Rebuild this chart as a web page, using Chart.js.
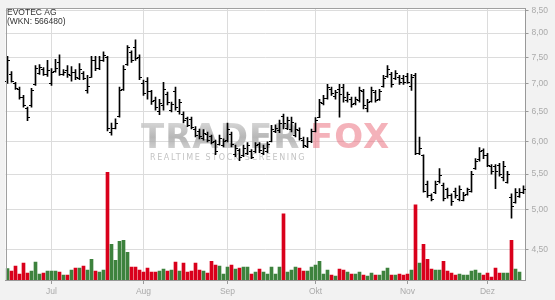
<!DOCTYPE html>
<html>
<head>
<meta charset="utf-8">
<script src="https://cdn.jsdelivr.net/npm/chart.js@4.4.0/dist/chart.umd.min.js"></script>
<style>
  html, body { margin: 0; padding: 0; background: #f2f2f2; }
</style>
</head>
<body>
<canvas id="chart" width="555" height="300"></canvas>
<script>
// month starts (trading-day index) and their labels
const monthTicks = [11, 34, 55, 77, 100, 120];
const monthLabels = ['Jul', 'Aug', 'Sep', 'Okt', 'Nov', 'Dez'];
const priceTicks = [4.5, 5, 5.5, 6, 6.5, 7, 7.5, 8, 8.5];

const opens = [
  7.05, 7.18, 7.00, 6.90, 6.75, 6.55, 6.60, 6.98, 7.20, 7.28,
  7.18, 7.00, 7.24, 7.40, 7.17, 7.25, 7.15, 7.22, 7.10, 7.20,
  6.88, 7.12, 7.45, 7.30, 7.45, 7.50, 6.15, 6.22, 6.42, 6.90,
  7.36, 7.60, 7.70, 7.50, 7.00, 7.05, 6.85, 6.70, 6.50, 6.60,
  6.80, 6.52, 6.85, 6.50, 6.46, 6.38, 6.36, 6.20, 6.17, 6.05,
  6.12, 6.08, 6.00, 5.96, 5.94, 6.02, 6.12, 5.80, 5.86, 5.78,
  5.82, 5.85, 5.84, 5.95, 5.82, 5.85, 6.00, 6.16, 6.18, 6.42,
  6.22, 6.20, 6.10, 6.18, 6.02, 5.93, 6.00, 6.17, 6.40, 6.64,
  6.74, 6.90, 6.76, 6.90, 6.94, 6.70, 6.72, 6.64, 6.70, 6.86,
  6.55, 6.68, 6.84, 6.72, 6.95, 7.14, 7.18, 7.10, 7.12, 7.10,
  7.14, 6.95, 7.15, 5.82, 5.78, 5.35, 5.20, 5.24, 5.40, 5.34,
  5.28, 5.20, 5.26, 5.15, 5.14, 5.21, 5.26, 5.59, 5.72, 5.86,
  5.78, 5.62, 5.62, 5.64, 5.45, 5.39, 5.18, 5.10, 5.19, 5.24
];
const highs = [
  7.52, 7.22, 7.02, 6.93, 6.78, 6.57, 6.91, 7.34, 7.36, 7.30,
  7.44, 7.28, 7.46, 7.55, 7.26, 7.34, 7.32, 7.26, 7.38, 7.22,
  7.15, 7.52, 7.52, 7.52, 7.61, 7.52, 6.30, 6.37, 6.93, 7.34,
  7.74, 7.63, 7.86, 7.55, 7.06, 7.11, 6.87, 6.75, 6.71, 7.02,
  6.84, 6.66, 6.93, 6.71, 6.49, 6.40, 6.40, 6.24, 6.20, 6.19,
  6.15, 6.10, 6.02, 6.10, 6.04, 6.30, 6.15, 5.94, 5.88, 5.94,
  5.98, 5.87, 5.98, 5.98, 5.94, 5.99, 6.26, 6.27, 6.35, 6.45,
  6.40, 6.40, 6.30, 6.22, 6.07, 6.06, 6.20, 6.39, 6.71, 6.78,
  6.98, 6.93, 6.87, 6.98, 6.98, 6.84, 6.75, 6.75, 6.93, 6.89,
  6.71, 6.93, 6.87, 6.89, 7.15, 7.34, 7.21, 7.24, 7.15, 7.15,
  7.19, 7.17, 7.19, 6.07, 5.79, 5.40, 5.22, 5.40, 5.58, 5.37,
  5.30, 5.22, 5.30, 5.33, 5.24, 5.30, 5.54, 5.73, 5.90, 5.88,
  5.81, 5.64, 5.64, 5.66, 5.69, 5.54, 5.22, 5.29, 5.29, 5.33
];
const lows = [
  7.00, 7.02, 6.89, 6.71, 6.57, 6.34, 6.57, 6.96, 7.17, 7.15,
  7.13, 6.96, 7.21, 7.15, 7.15, 7.11, 7.04, 7.07, 7.07, 7.07,
  6.82, 7.11, 7.24, 7.26, 7.42, 6.17, 6.10, 6.20, 6.40, 6.87,
  7.34, 7.40, 7.44, 7.07, 6.78, 6.71, 6.62, 6.52, 6.44, 6.52,
  6.61, 6.49, 6.52, 6.45, 6.30, 6.24, 6.20, 6.07, 6.04, 6.02,
  5.99, 5.96, 5.79, 5.94, 5.91, 5.99, 5.91, 5.76, 5.70, 5.76,
  5.79, 5.73, 5.82, 5.82, 5.79, 5.82, 5.99, 6.14, 6.14, 6.20,
  6.19, 6.15, 6.07, 6.02, 5.90, 5.90, 5.98, 6.15, 6.39, 6.61,
  6.71, 6.78, 6.71, 6.40, 6.66, 6.66, 6.57, 6.61, 6.66, 6.54,
  6.49, 6.66, 6.66, 6.69, 6.93, 7.11, 6.93, 7.07, 6.98, 6.98,
  7.00, 6.87, 5.79, 5.79, 5.24, 5.17, 5.12, 5.22, 5.37, 5.12,
  5.16, 5.06, 5.16, 5.12, 5.12, 5.20, 5.24, 5.57, 5.69, 5.73,
  5.61, 5.50, 5.29, 5.47, 5.40, 5.37, 4.89, 5.09, 5.17, 5.22
];
const closes = [
  7.45, 7.05, 6.92, 6.75, 6.60, 6.40, 6.88, 7.30, 7.32, 7.18,
  7.25, 7.22, 7.30, 7.18, 7.22, 7.18, 7.22, 7.12, 7.28, 7.10,
  6.95, 7.45, 7.30, 7.45, 7.55, 6.22, 6.22, 6.30, 6.88, 7.28,
  7.70, 7.45, 7.48, 7.12, 6.82, 6.85, 6.68, 6.58, 6.65, 6.90,
  6.66, 6.62, 6.58, 6.66, 6.35, 6.27, 6.24, 6.10, 6.08, 6.14,
  6.02, 5.99, 5.85, 6.05, 6.00, 6.20, 5.95, 5.90, 5.75, 5.90,
  5.94, 5.76, 5.94, 5.86, 5.90, 5.96, 6.20, 6.22, 6.30, 6.30,
  6.35, 6.32, 6.20, 6.05, 5.94, 6.00, 6.16, 6.35, 6.66, 6.74,
  6.94, 6.82, 6.84, 6.80, 6.75, 6.80, 6.62, 6.72, 6.88, 6.60,
  6.66, 6.88, 6.70, 6.86, 7.10, 7.28, 6.98, 7.20, 7.02, 7.02,
  7.03, 7.12, 5.82, 5.90, 5.26, 5.20, 5.15, 5.36, 5.48, 5.16,
  5.20, 5.12, 5.20, 5.28, 5.20, 5.28, 5.50, 5.70, 5.85, 5.78,
  5.64, 5.54, 5.55, 5.50, 5.62, 5.50, 5.05, 5.25, 5.25, 5.28
];
// volume in thousand shares
const volumes = [
  35, 27, 42, 18, 51, 21, 27, 54, 18, 21,
  27, 27, 27, 24, 15, 15, 30, 36, 36, 42,
  30, 63, 27, 24, 30, 327, 108, 60, 117, 120,
  84, 39, 39, 30, 24, 36, 24, 24, 27, 33,
  27, 30, 54, 27, 51, 24, 27, 51, 30, 27,
  21, 57, 45, 42, 18, 39, 45, 33, 36, 39,
  39, 18, 24, 33, 24, 18, 39, 18, 39, 201,
  24, 30, 39, 36, 27, 27, 39, 45, 57, 18,
  30, 15, 12, 33, 30, 24, 18, 18, 24, 15,
  12, 21, 15, 15, 27, 36, 15, 15, 18, 15,
  18, 30, 228, 51, 108, 63, 33, 30, 30, 57,
  27, 21, 15, 18, 15, 15, 27, 30, 21, 15,
  21, 9, 36, 21, 21, 21, 120, 33, 24, null
];

const days = opens.map((_, i) => i);
const volColors = days.map(i => closes[i] >= opens[i] ? '#3d823d' : '#d9001b');

const frame = {
  id: 'frame',
  beforeDraw(chart) {
    const { ctx, chartArea: a } = chart;
    ctx.save();
    ctx.fillStyle = '#f2f2f2';
    ctx.fillRect(0, 0, chart.width, chart.height);
    ctx.fillStyle = '#ffffff';
    ctx.fillRect(a.left, a.top, a.right - a.left, a.bottom - a.top);
    ctx.restore();
  },
  afterDraw(chart) {
    const { ctx, chartArea: a } = chart;
    ctx.save();
    ctx.strokeStyle = '#a0a0a0';
    ctx.lineWidth = 1;
    ctx.beginPath();
    ctx.moveTo(Math.round(a.left) + 0.5, a.bottom);
    ctx.lineTo(Math.round(a.left) + 0.5, Math.round(a.top) + 0.5);
    ctx.lineTo(a.right, Math.round(a.top) + 0.5);
    ctx.stroke();
    ctx.fillStyle = '#333';
    ctx.font = '8.5px "Liberation Sans", Arial, sans-serif';
    ctx.fillText('EVOTEC AG', 7, 15);
    ctx.fillText('(WKN: 566480)', 7, 24);
    ctx.restore();
  }
};

const watermark = {
  id: 'watermark',
  beforeDatasetsDraw(chart) {
    const ctx = chart.ctx;
    ctx.save();
    ctx.font = 'bold 34px "DejaVu Sans", sans-serif';
    ctx.letterSpacing = '1px';
    const g = ctx.createLinearGradient(0, 123, 0, 149);
    g.addColorStop(0, 'rgba(205,205,205,0.85)');
    g.addColorStop(0.55, 'rgba(165,165,165,0.8)');
    g.addColorStop(1, 'rgba(200,200,200,0.85)');
    ctx.fillStyle = g;
    ctx.fillText('TRADER', 141, 148);
    ctx.fillStyle = 'rgba(235,115,130,0.55)';
    ctx.fillText('FOX', 310, 148);
    ctx.font = '8px "DejaVu Sans", sans-serif';
    ctx.letterSpacing = '1.6px';
    ctx.fillStyle = 'rgba(185,185,185,0.85)';
    ctx.fillText('REALTIME STOCK SCREENING', 150, 160);
    ctx.restore();
  }
};

const ohlcTicks = {
  id: 'ohlcTicks',
  afterDatasetsDraw(chart) {
    const { ctx, scales: { x, y } } = chart;
    ctx.save();
    ctx.strokeStyle = '#000';
    ctx.lineWidth = 1;
    ctx.beginPath();
    days.forEach(i => {
      const px = x.getPixelForValue(i);
      const yo = Math.round(y.getPixelForValue(opens[i])) + 0.5;
      const yc = Math.round(y.getPixelForValue(closes[i])) + 0.5;
      ctx.moveTo(px - 2.5, yo); ctx.lineTo(px - 0.5, yo);
      ctx.moveTo(px + 0.5, yc); ctx.lineTo(px + 2.5, yc);
    });
    ctx.stroke();
    ctx.restore();
  }
};

new Chart(document.getElementById('chart'), {
  type: 'bar',
  data: {
    datasets: [
      {
        label: 'Kurs',
        data: days.map(i => ({ x: i, y: [lows[i], highs[i]] })),
        yAxisID: 'y',
        backgroundColor: '#000',
        barThickness: 1,
        grouped: false,
        order: 1
      },
      {
        label: 'Volumen',
        data: days.map(i => ({ x: i, y: volumes[i] })),
        yAxisID: 'yv',
        backgroundColor: volColors,
        barThickness: 3,
        grouped: false,
        order: 2
      }
    ]
  },
  options: {
    responsive: false,
    animation: false,
    layout: { padding: { left: 5.5, top: 5, right: 0, bottom: 0 } },
    plugins: { legend: { display: false }, tooltip: { enabled: false } },
    scales: {
      x: {
        type: 'linear',
        min: -0.5,
        max: 129.5,
        offset: false,
        grid: { offset: false, color: '#dcdcdc', tickColor: '#999', tickLength: 4 },
        border: { color: '#999' },
        ticks: {
          color: '#aaa',
          font: { size: 8.5, family: '"Liberation Sans", Arial, sans-serif' },
          padding: 3,
          maxRotation: 0,
          autoSkip: false,
          callback: v => monthLabels[monthTicks.indexOf(v)]
        },
        afterBuildTicks: s => { s.ticks = monthTicks.map(v => ({ value: v })); },
        afterFit: s => { s.height = 20; }
      },
      y: {
        type: 'logarithmic',
        position: 'right',
        min: 4.15,
        max: 8.55,
        grid: { color: '#dcdcdc', tickColor: '#999', tickLength: 3 },
        border: { color: '#999' },
        ticks: {
          color: '#aaa',
          font: { size: 8.5, family: '"Liberation Sans", Arial, sans-serif' },
          padding: 3,
          callback: v => v.toFixed(2).replace('.', ',')
        },
        afterBuildTicks: s => { s.ticks = priceTicks.map(v => ({ value: v })); },
        afterFit: s => { s.width = 29.5; }
      },
      yv: { type: 'linear', display: false, min: 0, max: 825 }
    }
  },
  plugins: [frame, watermark, ohlcTicks]
});
</script>
</body>
</html>
